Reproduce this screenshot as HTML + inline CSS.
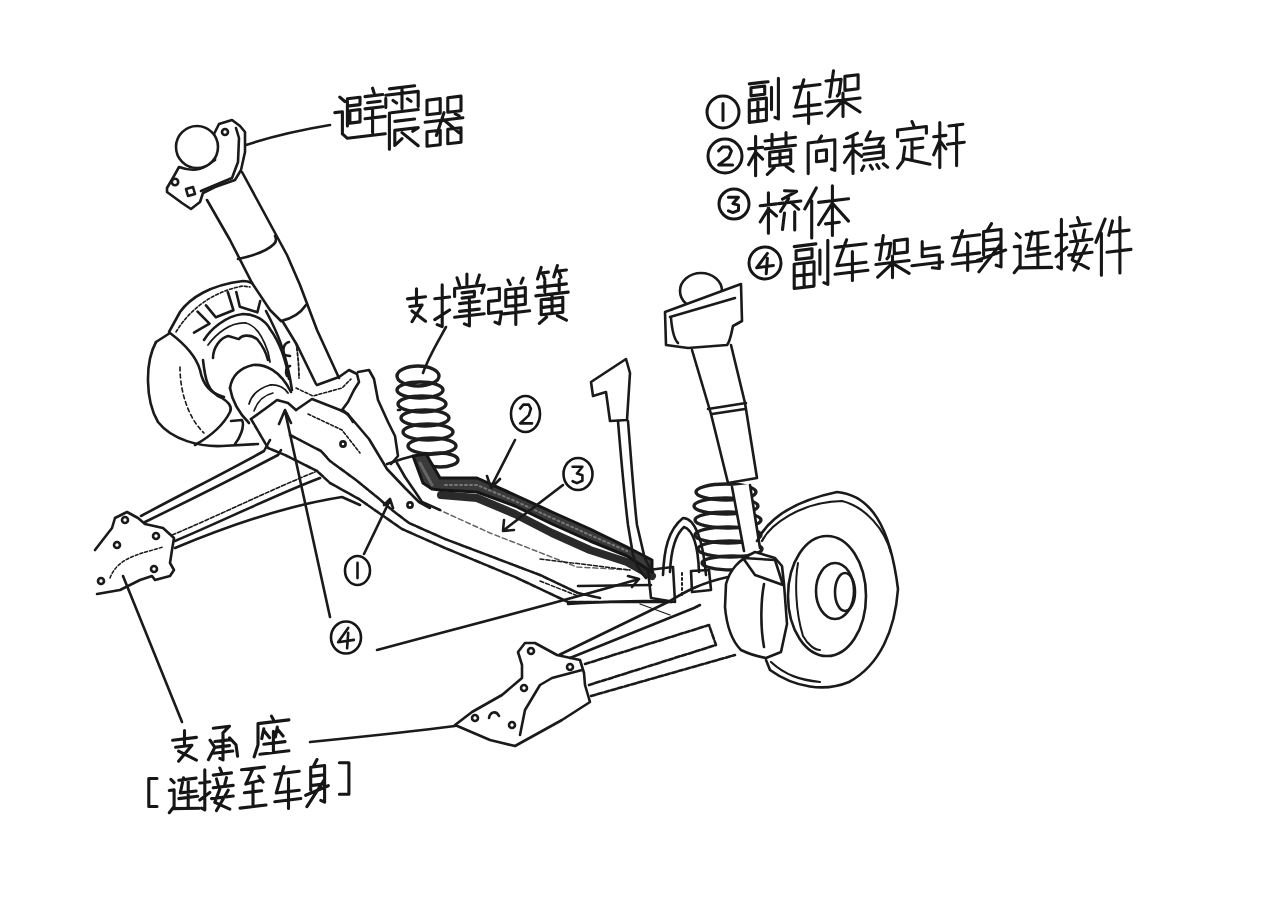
<!DOCTYPE html>
<html><head><meta charset="utf-8"><style>
html,body{margin:0;padding:0;background:#fff;}
body{width:1280px;height:905px;overflow:hidden;font-family:"Liberation Sans",sans-serif;}
svg{display:block;}
</style></head><body>
<svg width="1280" height="905" viewBox="0 0 1280 905">
<rect width="1280" height="905" fill="#ffffff"/>

<g fill="none" stroke="#1a1a1a" stroke-width="2.6" stroke-linecap="round" stroke-linejoin="round">
<!-- left shock -->
<path d="M167,188 L174,176 L179,167 C190,171 200,170 206,166 L215,160 L214,134 L219,124 L232,120 L240,126 L245,132 L245,152 L241,170 L235,180 L215,187 L203,193 L200,202 L191,209 L182,203 L167,192 Z"/>
<path d="M201,191 L232,178 L238,162 L239,138 L236,128"/>
<circle cx="197" cy="147" r="21" fill="#fff"/>
<circle cx="175" cy="182" r="3.2"/><path d="M186,189 l7,-2 l2,7 l-7,2z"/><circle cx="225" cy="132" r="3"/>
<path d="M207,200 L230,240 L252,283 L270,310 L281,321"/>
<path d="M242,172 L287,255 L300,285 L317,330 L339,378"/>
<path d="M238,259 C252,256 266,252 274,244 C277,241 276,238 275,236"/>
<path d="M281,321 C290,319 300,314 306,305"/>
<path d="M283,322 L297,345 L316,384"/>
<path d="M246,145 C270,137 300,130 330,125"/>
<!-- left backing plate -->
<path d="M169,332 L180,312 C190,298 210,285 243,281 C247,281 250,282 252,283"/>
<path d="M176,332 C188,312 210,292 243,286 L250,287" stroke-dasharray="3 2" stroke-width="1.6"/>
<path d="M266,311 C276,330 286,350 292,390"/>
<path d="M296,343 C298,355 299,368 299,378" stroke-dasharray="3 2" stroke-width="1.8"/>
<path d="M204,340 C210,330 225,316 243,314 C255,314 265,320 270,329 C278,340 285,355 289,379"/>
<path d="M208,345 C216,334 230,322 246,323 C258,326 264,340 268,352 L270,362" stroke-width="1.8"/>
<path d="M197.6,311.6 L209.5,323.6 L194,332.7 M206,305.3 L215.9,317.3 L233.4,310.2 L227.8,292 M236.3,292 L239.8,306.7 L257.4,312.3 L260.2,301"/>
<path d="M289,342 C284,343 282,350 284,355 L290,356 M290,366 C286,367 285,372 287,376"/>
<path d="M213,358 C213,348 220,338 228,336 C233,337 237,339 239,339 C242,335 250,334 257,339 C262,345 266,352 268,360"/>
<!-- knuckle -->
<path d="M156,342 C145,362 145,400 158,422 C172,440 200,447 222,446 L258,444"/>
<path d="M156,342 L170,333 C186,345 196,356 200,370 C203,385 210,393 224,397"/>
<path d="M180,367 C180,395 190,420 204,433" stroke-dasharray="4 3" stroke-width="1.6"/>
<path d="M203,360 C205,378 207,392 222,398 C230,403 232,408 230,412 C226,420 218,432 195,445"/>
<path d="M231,421 L242,420 C245,426 240,438 235,444"/>
<!-- bushing cylinder -->
<path d="M230,388 C232,375 240,368 253,365 C265,364 280,370 291,392"/>
<path d="M230,388 C232,400 238,412 249,423"/>
<path d="M249,404 C252,394 260,388 270,385 C278,384 285,388 288,393" stroke-width="1.8"/>
<path d="M254,411 C258,400 264,395 273,393" stroke-width="1.6"/>
<!-- collar at shock bottom -->
<path d="M317,385 L339,377 L349,370 L357,374 L359,382 L354,390 L348,402 L342,410"/>
<path d="M296,410 L312,399 L340,410 L348,414 L353,422"/>
<path d="M296,388 L313,396 L342,388 L351,379" stroke-dasharray="3 2" stroke-width="1.6"/>
<!-- tall bracket plate -->
<path d="M358,372 L369,370 L374,379 L378,400 L388,422 L395,436 L398,456 L391,464"/>
<path d="M343,410 L352,419 L369,439 L387,469 L405,488 L419,502 L430,508"/>
<!-- trailing arm block -->
<path d="M251,419 L269,406 L277,400 L288,403 L296,410"/>
<path d="M251,419 L268,448 L285,455 L317,471 L330,483 L359,499 L402,529 L445,548 L474,560 L515,577 L568,602 L671,602" stroke-dasharray="6 1.5"/>

<path d="M290,435 L321,451 L330,461 L356,480 L377,497 L392,510 L409,523 L445,539 L490,556 L540,575 L578,593 L600,598" stroke-dasharray="6 1.5"/>
<path d="M308,414 L342,430 L360,453" stroke-dasharray="3 2" stroke-width="1.6"/>
<path d="M398,410 L400,410"/>
<circle cx="343" cy="444" r="2.6"/>
<circle cx="410" cy="505" r="2.6"/>
<!-- beam face lines -->
<path d="M422,502 L490,533 L577,567 L632,570" stroke-width="1.5" stroke-dasharray="5 3" stroke="#666"/>
<path d="M568,604 C600,602 650,600 672,602"/>
<!-- spring seat at bar -->
<path d="M387,464 L402,459 L413,456"/>
<path d="M397,463 L405,477 L416,493 L422,502 L440,510"/>

<!-- left spring -->
<g stroke-width="3.4" stroke="#1e1e1e">
<ellipse cx="418" cy="376" rx="21" ry="10"/>
<ellipse cx="420" cy="390" rx="23" ry="8"/>
<ellipse cx="422" cy="404" rx="24" ry="8"/>
<ellipse cx="425" cy="418" rx="24" ry="8"/>
<ellipse cx="428" cy="432" rx="25" ry="8"/>
<ellipse cx="432" cy="446" rx="24" ry="8"/>
<ellipse cx="440" cy="460" rx="18" ry="7"/>
</g>
<path d="M446,327 C436,345 428,358 423,373"/>
<!-- stabilizer bar -->
<path d="M441,495 L477,498 L515,514 L552,533 L590,550 L627,562 L652,576" stroke="#2a2a2a" stroke-width="8"/>
<path d="M413,456 L426,454 L440,478 L477,478 L515,495 L552,512 L590,529 L627,547 L652,560 L652,572 L627,556 L590,541 L552,524 L515,506 L477,492 L440,490 L432,489 L423,483 Z" fill="#3a3a3a" stroke="#151515" stroke-width="3"/>
<path d="M445,485 L477,485 L515,501 L552,518 L590,535 L627,551" stroke="#777" stroke-width="2" stroke-dasharray="2 3"/>
<path d="M420,463 L432,485" stroke="#666" stroke-width="3" stroke-dasharray="2 2"/>
<!-- arrows -->
<path d="M515,440 L491,487 M487,476 L491,488 L500,479"/>
<path d="M563,485 L504,530 M504,520 L503,531 L514,530"/>
<path d="M364,554 L390,500 M384,505 L390,499 L393,508"/>
<!-- link bracket -->
<path d="M591,382 L626,359 L630,373 L627,420 L610,421 L606,392 L593,396 Z"/>
<path d="M618,421 C622,470 625,500 628,525 L633,555 C636,565 640,572 646,578"/>
<path d="M628,421 C632,470 634,500 637,525 L644,555 C646,562 650,568 653,572"/>
<!-- right shock -->
<ellipse cx="701" cy="291" rx="21" ry="18"/>
<path d="M665,312 L741,284 L742,321 L733,326 C731,335 730,342 727,345 L688,348 L666,345 Z" fill="#fff"/>
<path d="M671,318 C672,330 675,340 678,343 M670,317 L735,298"/>
<path d="M692,350 L711,414 L728,483 L757,478 L745,403 L731,345"/>
<path d="M708,409 L746,403 M712,414 L745,409"/>

<!-- right spring -->
<g stroke-width="3.4" stroke="#1e1e1e">
<ellipse cx="726" cy="492" rx="30" ry="8"/>
<ellipse cx="726" cy="506" rx="32" ry="8"/>
<ellipse cx="728" cy="520" rx="33" ry="8"/>
<ellipse cx="728" cy="535" rx="33" ry="8"/>
<ellipse cx="730" cy="549" rx="32" ry="8"/>
<ellipse cx="732" cy="563" rx="30" ry="7"/>
</g>
<path d="M731,486 L750,484 L760,548 L744,552 Z" fill="#fff" stroke="none"/>
<path d="M732,487 L744,551 M750,485 L760,548"/>
<!-- U bolt -->
<path d="M663,575 C664,550 668,530 683,518 C695,518 703,540 706,575"/>
<path d="M670,572 C671,550 675,535 684,527 C693,530 698,545 699,572"/>
<path d="M648,570 L673,567 L675,602 L651,598 Z M691,571 L709,570 L711,590 L692,592 Z"/>
<path d="M682,573 L682,597" stroke-dasharray="2 3" stroke-width="2"/>
<!-- right knuckle -->
<path d="M726,584 C730,570 738,560 755,552 L775,558 L782,566 L784,584 L787,624 L781,652 L766,658 C755,656 745,652 741,650 C733,642 727,630 725,607 Z" fill="#fff"/>
<path d="M743,558 L775,560 L783,585 L755,575 Z"/>
<path d="M764,584 C761,600 760,625 764,647"/>
<!-- right disc -->
<path d="M757,541 C765,525 785,503 837,492 C870,495 890,525 898,589 C895,630 880,665 849,682 C825,692 795,688 770,670 L766,660"/>
<path d="M762,541 C770,525 800,502 842,501 C866,507 885,530 891,553" stroke-width="2.2"/>
<path d="M771,662 C785,675 800,680 820,682" stroke-width="2.2"/>
<ellipse cx="827" cy="596" rx="39" ry="60"/>
<path d="M798,563 C795,580 795,610 803,636 C808,645 815,650 820,650" stroke-width="2"/>
<ellipse cx="835" cy="591" rx="19" ry="28"/>
<ellipse cx="845" cy="592" rx="10" ry="19"/>
<!-- beam right end / subframe arm -->
<path d="M559,655 L668,602 C685,592 700,583 728,577"/>
<path d="M570,658 L694,608 L700,605"/>
<path d="M585,664 L709,625 L716,645 L589,685" stroke-dasharray="5 2"/>
<path d="M591,696 L735,655" stroke-dasharray="5 2"/>
<path d="M578,586 L651,585"/>
<path d="M540,559 L630,570" stroke-width="1.5" stroke-dasharray="4 2"/>
<path d="M540,581 L578,596" stroke-width="1.5" stroke-dasharray="4 2"/>
<path d="M640,604 L670,615" stroke-width="1.3"/>
<!-- ④ leaders -->
<path d="M285,411 L330,617 M279,424 L285,410 L291,423"/>
<path d="M377,650 C450,630 550,605 639,579 M628,576 L639,579 L632,587"/>
<!-- left lower bracket -->
<path d="M95,550 L112,528 L115,518 L127,512 L138,518 L145,524 L163,528 L174,538 L172,550 L170,563 L174,570 L170,576 L155,580 L152,576 L140,580 L120,590 L97,594"/>
<path d="M110,578 C115,565 125,557 153,550 L163,547" stroke-dasharray="3 2" stroke-width="1.5"/>
<circle cx="125" cy="520" r="3"/><circle cx="117" cy="545" r="3"/><circle cx="156" cy="536" r="3"/><circle cx="154" cy="569" r="3"/><circle cx="101" cy="581" r="3"/>
<path d="M123,576 L182,722"/>
<!-- left arms -->
<path d="M141,516 C180,495 230,470 264,451 L270,440"/>
<path d="M145,522 C190,500 240,475 278,455 L281,450"/>
<path d="M172,535 C220,515 270,490 315,472" stroke-dasharray="4 2" stroke-width="1.6"/>
<path d="M175,541 C225,520 275,495 320,478"/>
<path d="M175,548 C230,525 290,505 342,497 L360,505"/>
<!-- right lower bracket -->
<path d="M455,725 L472,712 L502,695 L522,678 L522,665 L518,652 L525,643 L535,643 L557,655 L580,660 L584,673 L585,685 L590,702 L562,720 L515,746 L490,740 Z"/>
<path d="M520,735 L525,710 L540,685 L552,678 L582,670"/>
<circle cx="531" cy="651" r="3"/><circle cx="570" cy="667" r="3"/><circle cx="524" cy="688" r="3"/><circle cx="512" cy="725" r="3"/><circle cx="475" cy="718" r="3"/>
<path d="M489,718 C490,712 496,710 499,716"/>
<path d="M310,742 C360,737 410,732 455,726"/>
</g>

<path d="M339.8,97.1 L344.9,101.5 M334.8,112.6 L342.4,111.7 L342.4,133.9 M342.4,133.9 L347.4,138.3 L385.2,133.8 M347.4,98.7 L360.0,97.2 L360.0,104.6 L347.4,106.1 M347.4,98.7 L347.4,125.9 M349.9,110.8 L360.0,109.5 L360.0,121.9 L349.9,123.1 L349.9,110.8 M372.6,88.2 L374.1,93.0 M365.0,96.6 L382.7,94.5 M367.6,102.7 L380.2,101.2 M365.0,108.9 L382.7,106.8 M372.6,108.0 L372.6,132.8 M365.0,118.8 L385.2,116.4 M389.4,88.9 L414.6,85.8 M385.8,98.3 L385.8,107.4 M385.8,95.3 L418.2,91.4 L418.2,106.5 M402.0,87.3 L402.0,108.5 M393.0,100.5 L396.6,103.1 M407.4,98.8 L411.0,101.3 M389.4,113.0 L389.4,149.2 M391.2,112.8 L418.2,109.5 M394.8,121.4 L414.6,119.0 M394.8,130.4 L416.4,127.8 M394.8,130.4 L394.8,145.5 L402.0,138.6 M402.0,132.6 L418.2,145.7 M412.8,131.3 L418.2,127.6 M427.0,100.2 L440.2,98.6 L440.2,113.2 L427.0,114.8 L427.0,100.2 M447.8,97.7 L461.0,96.1 L461.0,110.7 L447.8,112.3 L447.8,97.7 M425.1,122.3 L462.9,117.7 M444.0,112.7 L436.4,135.5 M444.0,120.0 L459.1,132.8 M455.3,113.8 L459.1,115.8 M427.0,131.8 L440.2,130.2 L440.2,144.8 L427.0,146.3 L427.0,131.8 M447.8,129.3 L461.0,127.7 L461.0,142.3 L447.8,143.8 L447.8,129.3 M749.3,83.9 L768.1,81.7 M751.0,87.8 L764.7,86.1 L764.7,94.2 L751.0,95.9 L751.0,87.8 M749.3,100.1 L766.4,98.1 L766.4,120.3 L749.3,122.4 L749.3,100.1 M757.9,99.1 L757.9,121.4 M749.3,111.1 L766.4,109.0 M771.5,87.3 L771.5,109.6 M778.4,78.4 L778.4,118.9 L775.0,117.3 M794.0,87.6 L820.0,84.5 M803.8,79.8 L795.7,107.3 L820.0,104.4 M808.6,92.5 L808.6,123.4 M794.0,116.3 L821.6,113.0 M826.0,81.0 L841.1,79.2 L839.2,93.5 L837.3,96.0 M833.5,70.7 L829.8,96.9 M844.9,76.4 L858.1,74.8 L858.1,88.8 L844.9,90.4 L844.9,76.4 M826.0,102.1 L860.0,98.0 M843.0,93.0 L843.0,116.4 M841.1,102.6 L827.9,115.9 M844.9,102.1 L860.0,112.0 M748.6,148.9 L762.6,147.2 M755.6,136.2 L755.6,175.8 M755.6,152.0 L748.6,164.7 M755.6,152.0 L762.6,159.1 M765.0,141.0 L795.4,137.3 M772.0,134.2 L772.0,146.1 M786.0,132.5 L786.0,144.4 M765.0,148.9 L795.4,145.3 M769.7,152.3 L790.7,149.8 L790.7,163.6 L769.7,166.2 L769.7,152.3 M769.7,159.0 L790.7,156.5 M780.0,151.1 L780.0,164.9 M774.3,167.6 L767.3,174.4 M786.0,166.2 L793.1,171.3 M821.5,136.0 L818.2,141.8 M808.2,143.0 L808.2,173.6 M808.2,143.0 L834.8,139.8 L834.8,170.4 L831.5,169.0 M816.5,151.0 L826.5,149.8 L826.5,160.6 L816.5,161.8 L816.5,151.0 M857.4,133.2 L846.6,138.5 M844.4,146.7 L861.7,144.6 M853.0,135.7 L853.0,173.4 M853.0,149.6 L844.4,162.5 M853.0,149.6 L861.7,156.5 M870.3,131.7 L866.0,140.1 L883.3,138.0 L879.0,144.5 M863.8,148.3 L883.3,146.0 L883.3,157.8 L863.8,160.2 M863.8,154.2 L883.3,151.9 M863.8,166.1 L861.7,170.3 M870.3,165.3 L872.5,169.0 M876.8,164.6 L879.0,168.3 M883.3,163.8 L887.6,167.2 M912.0,121.5 L913.8,125.8 M897.6,136.7 L897.6,130.0 L926.4,126.5 L926.4,133.3 M901.2,140.8 L922.8,138.2 M912.0,139.5 L912.0,159.8 M912.0,148.5 L922.8,147.2 M904.8,147.1 L903.0,160.8 L897.6,168.2 M903.0,158.6 L930.0,164.3 M933.7,136.8 L945.9,135.4 M939.8,122.6 L939.8,167.6 M939.8,140.6 L933.7,154.8 M939.8,140.6 L945.9,148.9 M949.0,126.0 L962.8,124.3 M947.5,144.2 L964.3,142.2 M956.6,125.1 L956.6,165.6 M760.2,205.8 L776.5,203.9 M768.4,192.7 L768.4,233.2 M768.4,208.9 L760.2,222.0 M768.4,208.9 L776.5,216.0 M784.5,190.8 L796.7,191.3 L782.5,199.1 M778.5,203.6 L800.8,201.0 M788.6,198.4 L780.5,211.5 M790.6,202.2 L798.7,209.3 M784.5,213.0 L782.5,229.5 M794.7,211.8 L794.7,230.0 M816.3,187.9 L804.8,209.0 M811.7,200.8 L811.7,237.9 M818.6,202.4 L848.5,198.8 M832.4,185.9 L832.4,235.4 M832.4,203.2 L818.6,224.7 M832.4,203.2 L848.5,221.1 M825.5,223.9 L839.3,222.2 M794.2,246.6 L815.9,243.9 M796.1,250.7 L812.0,248.8 L812.0,257.6 L796.1,259.5 L796.1,250.7 M794.2,264.2 L814.0,261.8 L814.0,286.1 L794.2,288.5 L794.2,264.2 M804.1,263.0 L804.1,287.3 M794.2,276.1 L814.0,273.7 M819.9,250.1 L819.9,274.3 M827.8,240.3 L827.8,284.4 L823.9,282.7 M835.0,247.4 L866.0,243.7 M846.6,239.8 L837.0,265.8 L866.0,262.3 M852.4,251.5 L852.4,280.5 M835.0,274.3 L867.9,270.3 M875.9,245.0 L890.7,243.3 L888.8,256.4 L887.0,258.8 M883.3,235.5 L879.6,259.7 M894.3,240.7 L907.3,239.1 L907.3,252.1 L894.3,253.6 L894.3,240.7 M875.9,264.5 L909.1,260.5 M892.5,256.0 L892.5,277.6 M890.7,264.9 L877.7,277.2 M894.3,264.4 L909.1,273.4 M922.2,241.5 L922.2,256.8 L939.3,254.8 M922.2,249.2 L939.3,247.1 M939.3,254.8 L939.3,268.5 L932.4,267.8 M911.9,265.7 L942.7,262.0 M952.3,238.0 L979.7,234.7 M962.6,230.7 L954.0,256.0 L979.7,252.9 M967.7,242.2 L967.7,270.5 M952.3,264.3 L981.4,260.8 M991.5,223.6 L986.8,231.2 M983.6,231.6 L1001.0,229.5 L1001.0,266.9 L996.2,265.2 M983.6,231.6 L983.6,255.0 M983.6,240.9 L1001.0,238.8 M983.6,250.3 L1001.0,248.2 M977.3,260.4 L1005.7,250.0 M1001.0,243.5 L978.9,271.9 M1016.2,233.6 L1020.1,237.5 M1014.2,246.8 L1020.1,246.1 L1020.1,265.5 L1014.2,272.7 M1018.1,267.9 L1051.8,267.4 M1026.1,234.6 L1047.8,232.0 M1032.0,231.7 L1028.0,249.5 L1047.8,247.1 M1037.9,235.3 L1037.9,265.6 M1026.1,256.2 L1049.8,253.3 M1056.0,235.7 L1066.8,234.4 M1061.4,219.4 L1061.4,269.0 L1057.8,266.8 M1056.0,256.6 L1066.8,247.5 M1077.6,217.5 L1079.4,222.5 M1070.4,226.2 L1090.2,223.8 M1074.0,231.0 L1075.8,238.6 M1084.8,229.7 L1083.0,237.7 M1070.4,241.8 L1092.0,239.2 M1077.6,243.6 L1072.2,259.9 L1088.4,268.4 M1086.6,245.1 L1074.0,270.1 M1068.6,255.1 L1092.0,252.3 M1105.1,219.0 L1095.9,242.4 M1101.4,233.4 L1101.4,275.2 M1112.5,220.9 L1108.8,235.3 M1110.7,232.3 L1129.1,230.1 M1107.0,252.2 L1131.0,249.4 M1119.9,217.2 L1119.9,273.0 M407.5,298.9 L425.5,296.7 M416.5,288.8 L416.5,305.0 M409.8,306.5 L422.1,305.0 L412.0,321.7 M412.0,310.9 L425.5,321.2 M434.8,298.8 L449.6,297.0 M442.2,284.8 L442.2,326.6 L437.2,324.6 M434.8,319.6 L449.6,310.0 M466.9,274.0 L466.9,284.4 M457.0,277.8 L459.5,285.3 M479.3,275.1 L476.8,283.3 M454.6,288.5 L454.6,296.4 M454.6,288.5 L484.2,285.0 L481.8,293.1 M462.0,292.9 L474.4,291.4 L474.4,296.6 L462.0,298.1 M459.5,303.6 L479.3,301.2 M459.5,311.4 L479.3,309.1 M454.6,317.3 L484.2,313.7 M469.4,299.8 L469.4,325.9 L464.4,323.9 M488.6,289.5 L499.4,288.2 L499.4,300.2 L488.6,301.4 L488.6,313.4 L501.5,311.8 L499.4,324.0 L495.0,322.1 M508.0,280.0 L510.2,284.5 M523.1,278.2 L521.0,283.2 M505.8,289.8 L525.3,287.5 L525.3,304.2 L505.8,306.5 L505.8,289.8 M505.8,297.9 L525.3,295.6 M503.7,313.9 L529.6,310.8 M515.8,288.6 L515.8,324.4 M541.2,267.4 L537.6,279.0 M539.4,273.2 L548.4,272.1 M543.0,273.9 L544.8,279.2 M557.4,265.5 L553.8,277.0 M555.6,271.2 L566.4,270.0 M559.2,271.9 L561.0,277.3 M537.6,287.4 L566.4,283.9 M544.8,280.9 L544.8,292.1 M559.2,279.2 L559.2,290.3 M535.8,295.9 L568.2,292.1 M541.2,299.8 L562.8,297.2 L562.8,312.2 L541.2,314.8 L541.2,299.8 M541.2,307.6 L562.8,305.0 M552.0,294.0 L552.0,313.5 M546.6,317.0 L539.4,323.4 M557.4,315.7 L566.4,320.2 M172.6,740.3 L196.4,737.4 M184.5,730.5 L184.5,745.5 M175.6,747.2 L191.9,745.3 L178.6,761.2 M178.6,751.2 L196.4,760.1 M213.3,728.2 L229.5,726.2 L223.0,732.8 M223.0,732.8 L223.0,759.9 L219.8,758.4 M214.9,741.5 L231.1,739.6 M216.5,747.1 L229.5,745.6 M213.3,753.3 L232.7,751.0 M210.0,740.2 L214.9,747.3 L208.4,759.7 M229.5,737.9 L236.0,744.8 L237.6,756.2 M271.5,716.1 L273.4,719.8 M258.0,723.6 L288.9,719.9 M258.0,723.6 L258.0,744.9 L254.1,756.9 M263.8,728.7 L261.8,738.6 M263.8,730.6 L269.6,737.7 M277.3,727.1 L275.4,737.0 M277.3,729.0 L283.1,736.0 M263.8,744.2 L285.0,741.6 M273.4,731.4 L273.4,752.7 M259.9,754.3 L288.9,750.8 M157.0,778.5 L148.8,778.5 L148.8,806.5 L157.0,806.5 M170.9,779.3 L174.1,782.6 M169.3,790.5 L174.1,789.9 L174.1,806.5 L169.3,812.7 M172.5,808.6 L199.2,808.3 M178.8,780.2 L196.1,778.1 M183.5,777.7 L180.3,792.9 L196.1,791.0 M188.2,780.9 L188.2,806.7 M178.8,798.6 L197.7,796.3 M199.8,783.0 L209.8,781.8 M204.8,769.7 L204.8,809.9 L201.5,808.2 M199.8,800.0 L209.8,792.4 M219.8,768.0 L221.5,772.0 M213.2,775.1 L231.5,772.9 M216.5,778.9 L218.2,785.1 M226.5,777.7 L224.8,784.3 M213.2,787.8 L233.2,785.4 M219.8,789.1 L214.8,802.4 L229.8,809.1 M228.2,790.2 L216.5,810.6 M211.5,798.6 L233.2,796.0 M241.5,769.8 L264.5,767.1 M253.0,768.5 L245.8,784.1 L261.6,780.1 M258.8,776.2 L263.1,782.1 M244.4,792.8 L261.6,790.7 M253.0,783.3 L253.0,806.5 M240.0,808.1 L266.0,805.0 M274.8,774.2 L299.2,771.2 M283.9,766.7 L276.3,793.0 L299.2,790.3 M288.5,778.9 L288.5,808.5 M274.8,801.7 L300.8,798.5 M317.0,759.5 L313.2,766.9 M310.7,767.2 L324.6,765.5 L324.6,802.2 L320.8,800.4 M310.7,767.2 L310.7,790.1 M310.7,776.4 L324.6,774.7 M310.7,785.6 L324.6,783.9 M305.7,795.3 L328.3,785.7 M324.6,779.3 L306.9,806.7 M339.4,762.8 L348.9,762.8 L348.9,794.2 L339.4,794.2" fill="none" stroke="#161616" stroke-width="3.1" stroke-linecap="round" stroke-linejoin="round"/>
<ellipse cx="723.0" cy="112.0" rx="16.0" ry="16.0" fill="none" stroke="#161616" stroke-width="3.0"/><path d="M723.0,103.6 L723.0,120.4" fill="none" stroke="#161616" stroke-width="3.0" stroke-linecap="round" stroke-linejoin="round"/><ellipse cx="725.0" cy="156.0" rx="17.0" ry="17.0" fill="none" stroke="#161616" stroke-width="3.0"/><path d="M718.6,150.9 L722.5,147.1 L728.8,147.1 L731.4,150.9 L728.8,157.3 L718.6,164.9 L732.6,164.9" fill="none" stroke="#161616" stroke-width="3.0" stroke-linecap="round" stroke-linejoin="round"/><ellipse cx="734.0" cy="204.0" rx="15.0" ry="15.0" fill="none" stroke="#161616" stroke-width="3.0"/><path d="M728.4,197.2 L738.5,197.2 L732.9,203.6 L738.5,205.1 L738.5,210.3 L732.9,212.6 L728.4,210.8" fill="none" stroke="#161616" stroke-width="3.0" stroke-linecap="round" stroke-linejoin="round"/><ellipse cx="765.0" cy="263.0" rx="16.0" ry="16.0" fill="none" stroke="#161616" stroke-width="3.0"/><path d="M767.4,253.4 L756.6,267.8 L773.4,265.4 M767.4,258.2 L766.2,273.8" fill="none" stroke="#161616" stroke-width="3.0" stroke-linecap="round" stroke-linejoin="round"/><ellipse cx="525.5" cy="414.0" rx="14.5" ry="18.0" fill="none" stroke="#161616" stroke-width="2.6"/><path d="M520.1,408.6 L523.3,404.6 L528.8,404.6 L530.9,408.6 L528.8,415.4 L520.1,423.4 L532.0,423.4" fill="none" stroke="#161616" stroke-width="2.6" stroke-linecap="round" stroke-linejoin="round"/><ellipse cx="578.0" cy="474.0" rx="14.5" ry="16.0" fill="none" stroke="#161616" stroke-width="2.6"/><path d="M572.6,466.8 L582.4,466.8 L576.9,473.5 L582.4,475.2 L582.4,480.7 L576.9,483.1 L572.6,481.2" fill="none" stroke="#161616" stroke-width="2.6" stroke-linecap="round" stroke-linejoin="round"/><ellipse cx="357.5" cy="570.5" rx="12.5" ry="14.5" fill="none" stroke="#161616" stroke-width="2.6"/><path d="M357.5,562.9 L357.5,578.1" fill="none" stroke="#161616" stroke-width="2.6" stroke-linecap="round" stroke-linejoin="round"/><ellipse cx="346.0" cy="637.5" rx="15.0" ry="16.0" fill="none" stroke="#161616" stroke-width="2.6"/><path d="M348.2,627.9 L338.1,642.3 L353.9,639.9 M348.2,632.7 L347.1,648.3" fill="none" stroke="#161616" stroke-width="2.6" stroke-linecap="round" stroke-linejoin="round"/>
</svg></body></html>
